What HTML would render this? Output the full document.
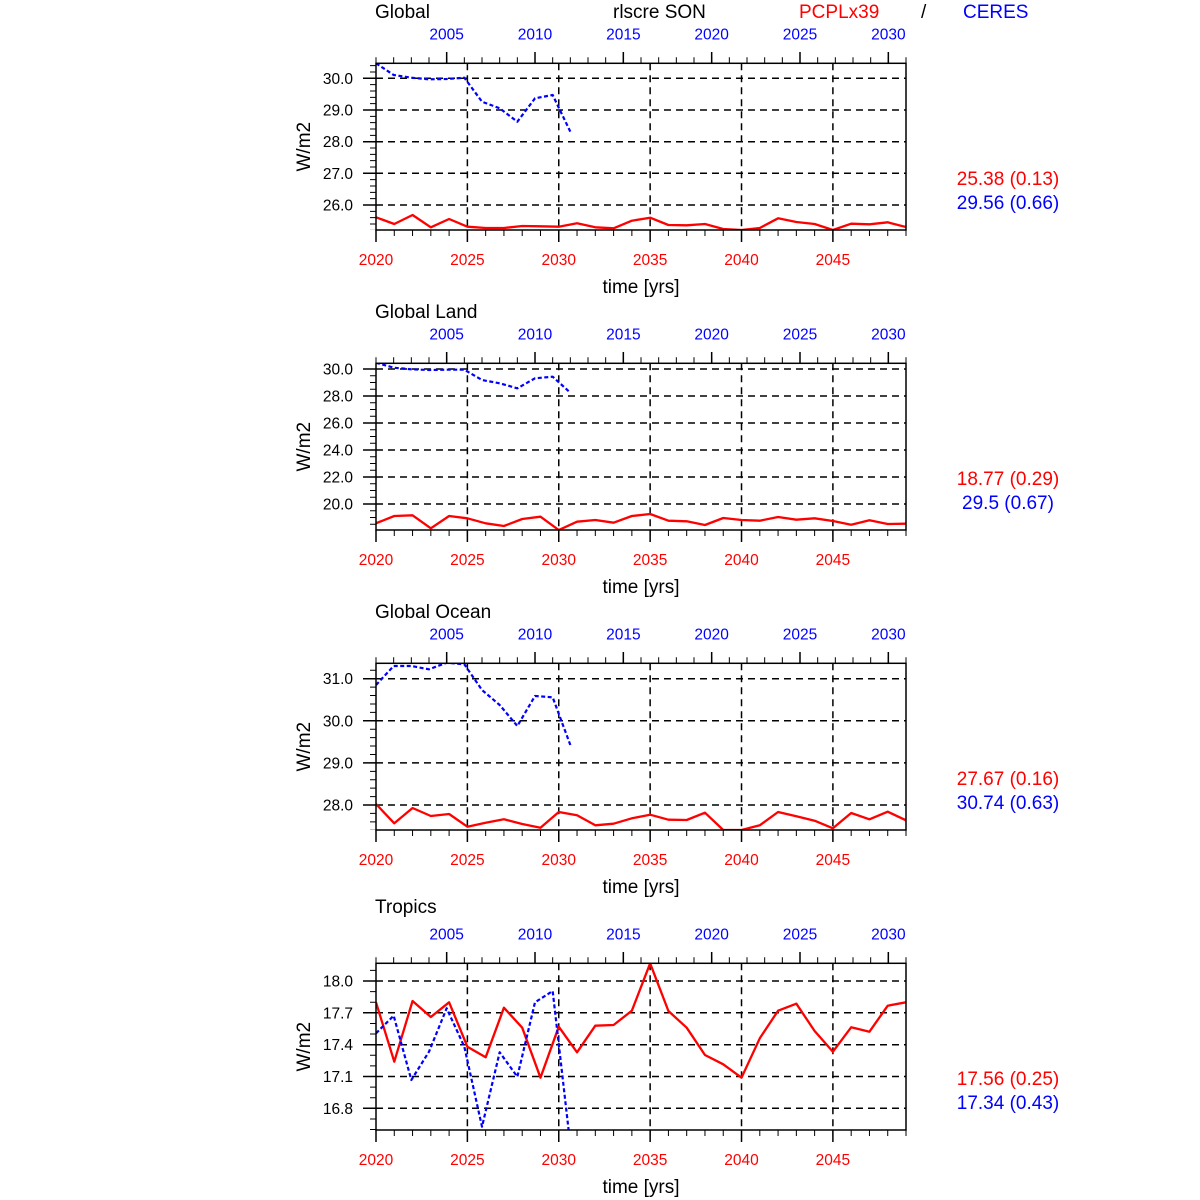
<!DOCTYPE html>
<html>
<head>
<meta charset="utf-8">
<style>
html,body{margin:0;padding:0;background:#fff;}
svg{display:block;font-family:"Liberation Sans",Arial,sans-serif;}
</style>
</head>
<body>
<svg width="1200" height="1200" viewBox="0 0 1200 1200" xmlns="http://www.w3.org/2000/svg">
<defs>
<clipPath id="pc"><rect x="376" y="63.3" width="530" height="166.7"/></clipPath>
</defs>
<rect width="1200" height="1200" fill="#fff"/>

<!-- header -->
<text x="613" y="18" font-size="19" fill="#000">rlscre SON</text>
<text x="799" y="18" font-size="19" fill="#ff0000">PCPLx39</text>
<text x="921" y="18" font-size="19" fill="#000">/</text>
<text x="963" y="18" font-size="19" fill="#0000ff">CERES</text>

<!-- ================= PANEL 1 ================= -->
<g transform="translate(0,0)">
<text x="375" y="18" font-size="19" fill="#000">Global</text>
<g stroke="#000" stroke-width="1.5" fill="none" stroke-dasharray="7 5">
<path d="M467.38 63.3V230 M558.76 63.3V230 M650.14 63.3V230 M741.52 63.3V230 M832.9 63.3V230"/>
<path d="M376 78.3H906 M376 110H906 M376 141.7H906 M376 173.3H906 M376 205H906"/>
</g>
<g stroke="#000" fill="none">
<path stroke-width="1.5" d="M446.67 52V63.3 M535 52V63.3 M623.33 52V63.3 M711.67 52V63.3 M800 52V63.3 M888.33 52V63.3"/>
<line x1="375.5" y1="60.3" x2="906.5" y2="60.3" stroke-width="6" stroke-dasharray="1 16.667"/>
<path stroke-width="1.5" d="M376 230V242 M467.38 230V242 M558.76 230V242 M650.14 230V242 M741.52 230V242 M832.9 230V242"/>
<line x1="375.5" y1="233" x2="906.5" y2="233" stroke-width="6" stroke-dasharray="1 17.276"/>
<path stroke-width="1.5" d="M363 78.3H376 M363 110H376 M363 141.7H376 M363 173.3H376 M363 205H376"/>
<line x1="373" y1="65.17" x2="373" y2="230" stroke-width="6" stroke-dasharray="1 5.333"/>
</g>
<g clip-path="url(#pc)" fill="none" stroke-linejoin="round">
<polyline stroke="#ff0000" stroke-width="2.3" points="376,217.3 394.28,224 412.55,215 430.83,227.3 449.1,219 467.38,226.7 485.66,228 503.93,228 522.21,226 540.48,226.3 558.76,226.7 577.03,223.3 595.31,227.3 613.59,228.3 631.86,220.7 650.14,217.7 668.41,225 686.69,225.3 704.97,224 723.24,229 741.52,230 759.79,228 778.07,218.3 796.34,222 814.62,224 832.9,230 851.17,223.7 869.45,224.3 887.72,222.3 906,227"/>
<polyline stroke="#0000ff" stroke-width="2.2" stroke-dasharray="4 2.5" points="376,63.3 393.67,75 411.33,77.7 429,79.3 446.67,79 464.33,77.7 482,101.7 499.67,108.3 517.33,121.7 535,98.3 552.67,95 570.33,131.7"/>
</g>
<rect x="376" y="63.3" width="530" height="166.7" fill="none" stroke="#000" stroke-width="1.5"/>
<g font-size="15.5" fill="#0000ff" text-anchor="middle">
<text x="446.67" y="39.5">2005</text><text x="535" y="39.5">2010</text><text x="623.33" y="39.5">2015</text><text x="711.67" y="39.5">2020</text><text x="800" y="39.5">2025</text><text x="888.33" y="39.5">2030</text>
</g>
<g font-size="15.5" fill="#ff0000" text-anchor="middle">
<text x="376" y="265">2020</text><text x="467.38" y="265">2025</text><text x="558.76" y="265">2030</text><text x="650.14" y="265">2035</text><text x="741.52" y="265">2040</text><text x="832.9" y="265">2045</text>
</g>
<text x="641" y="293" font-size="19" text-anchor="middle" fill="#000">time [yrs]</text>
<g font-size="15.5" fill="#000" text-anchor="end">
<text x="353" y="83.8">30.0</text><text x="353" y="115.5">29.0</text><text x="353" y="147.2">28.0</text><text x="353" y="178.8">27.0</text><text x="353" y="210.5">26.0</text>
</g>
<text transform="translate(310,146.7) rotate(-90)" font-size="19" text-anchor="middle" fill="#000">W/m2</text>
<text x="1008" y="185" font-size="19" text-anchor="middle" fill="#ff0000">25.38 (0.13)</text>
<text x="1008" y="209" font-size="19" text-anchor="middle" fill="#0000ff">29.56 (0.66)</text>
</g>

<!-- ================= PANEL 2 ================= -->
<g transform="translate(0,300)">
<text x="375" y="18" font-size="19" fill="#000">Global Land</text>
<g stroke="#000" stroke-width="1.5" fill="none" stroke-dasharray="7 5">
<path d="M467.38 63.3V230 M558.76 63.3V230 M650.14 63.3V230 M741.52 63.3V230 M832.9 63.3V230"/>
<path d="M376 69H906 M376 96H906 M376 123H906 M376 150H906 M376 177H906 M376 204H906"/>
</g>
<g stroke="#000" fill="none">
<path stroke-width="1.5" d="M446.67 52V63.3 M535 52V63.3 M623.33 52V63.3 M711.67 52V63.3 M800 52V63.3 M888.33 52V63.3"/>
<line x1="375.5" y1="60.3" x2="906.5" y2="60.3" stroke-width="6" stroke-dasharray="1 16.667"/>
<path stroke-width="1.5" d="M376 230V242 M467.38 230V242 M558.76 230V242 M650.14 230V242 M741.52 230V242 M832.9 230V242"/>
<line x1="375.5" y1="233" x2="906.5" y2="233" stroke-width="6" stroke-dasharray="1 17.276"/>
<path stroke-width="1.5" d="M363 69H376 M363 96H376 M363 123H376 M363 150H376 M363 177H376 M363 204H376"/>
<line x1="373" y1="68.5" x2="373" y2="230" stroke-width="6" stroke-dasharray="1 5.75"/>
</g>
<g clip-path="url(#pc)" fill="none" stroke-linejoin="round">
<polyline stroke="#ff0000" stroke-width="2.3" points="376,223.3 394.28,216 412.55,215.3 430.83,228.3 449.1,216 467.38,218.3 485.66,223.3 503.93,226 522.21,219 540.48,216.7 558.76,230 577.03,221.7 595.31,220 613.59,222.7 631.86,216 650.14,214 668.41,220.7 686.69,221.3 704.97,225 723.24,218 741.52,220 759.79,220.7 778.07,217 796.34,219.7 814.62,218.3 832.9,221 851.17,224.7 869.45,220.3 887.72,224 906,223.7"/>
<polyline stroke="#0000ff" stroke-width="2.2" stroke-dasharray="4 2.5" points="376,62.7 393.67,67.7 411.33,69.3 429,70 446.67,69.7 464.33,69.7 482,80 499.67,83.3 517.33,88.3 535,78.3 552.67,76.7 570.33,92.7"/>
</g>
<rect x="376" y="63.3" width="530" height="166.7" fill="none" stroke="#000" stroke-width="1.5"/>
<g font-size="15.5" fill="#0000ff" text-anchor="middle">
<text x="446.67" y="39.5">2005</text><text x="535" y="39.5">2010</text><text x="623.33" y="39.5">2015</text><text x="711.67" y="39.5">2020</text><text x="800" y="39.5">2025</text><text x="888.33" y="39.5">2030</text>
</g>
<g font-size="15.5" fill="#ff0000" text-anchor="middle">
<text x="376" y="265">2020</text><text x="467.38" y="265">2025</text><text x="558.76" y="265">2030</text><text x="650.14" y="265">2035</text><text x="741.52" y="265">2040</text><text x="832.9" y="265">2045</text>
</g>
<text x="641" y="293" font-size="19" text-anchor="middle" fill="#000">time [yrs]</text>
<g font-size="15.5" fill="#000" text-anchor="end">
<text x="353" y="74.5">30.0</text><text x="353" y="101.5">28.0</text><text x="353" y="128.5">26.0</text><text x="353" y="155.5">24.0</text><text x="353" y="182.5">22.0</text><text x="353" y="209.5">20.0</text>
</g>
<text transform="translate(310,146.7) rotate(-90)" font-size="19" text-anchor="middle" fill="#000">W/m2</text>
<text x="1008" y="185" font-size="19" text-anchor="middle" fill="#ff0000">18.77 (0.29)</text>
<text x="1008" y="209" font-size="19" text-anchor="middle" fill="#0000ff">29.5 (0.67)</text>
</g>

<!-- ================= PANEL 3 ================= -->
<g transform="translate(0,600)">
<text x="375" y="18" font-size="19" fill="#000">Global Ocean</text>
<g stroke="#000" stroke-width="1.5" fill="none" stroke-dasharray="7 5">
<path d="M467.38 63.3V230 M558.76 63.3V230 M650.14 63.3V230 M741.52 63.3V230 M832.9 63.3V230"/>
<path d="M376 78.7H906 M376 120.8H906 M376 162.9H906 M376 205H906"/>
</g>
<g stroke="#000" fill="none">
<path stroke-width="1.5" d="M446.67 52V63.3 M535 52V63.3 M623.33 52V63.3 M711.67 52V63.3 M800 52V63.3 M888.33 52V63.3"/>
<line x1="375.5" y1="60.3" x2="906.5" y2="60.3" stroke-width="6" stroke-dasharray="1 16.667"/>
<path stroke-width="1.5" d="M376 230V242 M467.38 230V242 M558.76 230V242 M650.14 230V242 M741.52 230V242 M832.9 230V242"/>
<line x1="375.5" y1="233" x2="906.5" y2="233" stroke-width="6" stroke-dasharray="1 17.276"/>
<path stroke-width="1.5" d="M363 78.7H376 M363 120.8H376 M363 162.9H376 M363 205H376"/>
<line x1="373" y1="69.78" x2="373" y2="230" stroke-width="6" stroke-dasharray="1 7.42"/>
</g>
<g clip-path="url(#pc)" fill="none" stroke-linejoin="round">
<polyline stroke="#ff0000" stroke-width="2.3" points="376,204 394.28,223.3 412.55,208 430.83,216 449.1,214 467.38,226.7 485.66,222.7 503.93,219.3 522.21,224 540.48,227.7 558.76,212 577.03,215.3 595.31,225.3 613.59,223.7 631.86,218.3 650.14,214.7 668.41,219.7 686.69,220 704.97,212.7 723.24,230 741.52,230 759.79,225.3 778.07,212 796.34,216.3 814.62,220.7 832.9,228.3 851.17,213 869.45,219.3 887.72,211.7 906,220.3"/>
<polyline stroke="#0000ff" stroke-width="2.2" stroke-dasharray="4 2.5" points="376,85 393.67,66 411.33,66 429,69.3 446.67,62.7 464.33,64.3 482,90 499.67,105 517.33,126 535,96 552.67,97.3 570.33,145"/>
</g>
<rect x="376" y="63.3" width="530" height="166.7" fill="none" stroke="#000" stroke-width="1.5"/>
<g font-size="15.5" fill="#0000ff" text-anchor="middle">
<text x="446.67" y="39.5">2005</text><text x="535" y="39.5">2010</text><text x="623.33" y="39.5">2015</text><text x="711.67" y="39.5">2020</text><text x="800" y="39.5">2025</text><text x="888.33" y="39.5">2030</text>
</g>
<g font-size="15.5" fill="#ff0000" text-anchor="middle">
<text x="376" y="265">2020</text><text x="467.38" y="265">2025</text><text x="558.76" y="265">2030</text><text x="650.14" y="265">2035</text><text x="741.52" y="265">2040</text><text x="832.9" y="265">2045</text>
</g>
<text x="641" y="293" font-size="19" text-anchor="middle" fill="#000">time [yrs]</text>
<g font-size="15.5" fill="#000" text-anchor="end">
<text x="353" y="84.2">31.0</text><text x="353" y="126.3">30.0</text><text x="353" y="168.4">29.0</text><text x="353" y="210.5">28.0</text>
</g>
<text transform="translate(310,146.7) rotate(-90)" font-size="19" text-anchor="middle" fill="#000">W/m2</text>
<text x="1008" y="185" font-size="19" text-anchor="middle" fill="#ff0000">27.67 (0.16)</text>
<text x="1008" y="209" font-size="19" text-anchor="middle" fill="#0000ff">30.74 (0.63)</text>
</g>

<!-- ================= PANEL 4 ================= -->
<g transform="translate(0,900)">
<text x="375" y="13" font-size="19" fill="#000">Tropics</text>
<g stroke="#000" stroke-width="1.5" fill="none" stroke-dasharray="7 5">
<path d="M467.38 63.3V230 M558.76 63.3V230 M650.14 63.3V230 M741.52 63.3V230 M832.9 63.3V230"/>
<path d="M376 81H906 M376 112.8H906 M376 144.7H906 M376 176.5H906 M376 208.3H906"/>
</g>
<g stroke="#000" fill="none">
<path stroke-width="1.5" d="M446.67 52V63.3 M535 52V63.3 M623.33 52V63.3 M711.67 52V63.3 M800 52V63.3 M888.33 52V63.3"/>
<line x1="375.5" y1="60.3" x2="906.5" y2="60.3" stroke-width="6" stroke-dasharray="1 16.667"/>
<path stroke-width="1.5" d="M376 230V242 M467.38 230V242 M558.76 230V242 M650.14 230V242 M741.52 230V242 M832.9 230V242"/>
<line x1="375.5" y1="233" x2="906.5" y2="233" stroke-width="6" stroke-dasharray="1 17.276"/>
<path stroke-width="1.5" d="M363 81H376 M363 112.8H376 M363 144.7H376 M363 176.5H376 M363 208.3H376"/>
<line x1="373" y1="69.9" x2="373" y2="230" stroke-width="6" stroke-dasharray="1 9.61"/>
</g>
<g clip-path="url(#pc)" fill="none" stroke-linejoin="round">
<polyline stroke="#ff0000" stroke-width="2.3" points="376,102.3 394.28,161.7 412.55,101 430.83,117 449.1,102.3 467.38,146.7 485.66,157.3 503.93,107.7 522.21,127.7 540.48,177.7 558.76,126.7 577.03,152.3 595.31,125.7 613.59,125 631.86,110.7 650.14,63.3 668.41,111 686.69,127.7 704.97,155 723.24,164.3 741.52,177.7 759.79,138.3 778.07,110.7 796.34,103.7 814.62,131 832.9,151.7 851.17,127.3 869.45,131.7 887.72,105.7 906,102.3"/>
<polyline stroke="#0000ff" stroke-width="2.2" stroke-dasharray="4 2.5" points="376,133.3 393.67,115.7 411.33,180 429,151.7 446.67,108.3 464.33,146.7 482,226.7 499.67,152.3 517.33,176.7 535,102.3 552.67,91 570.33,245"/>
</g>
<rect x="376" y="63.3" width="530" height="166.7" fill="none" stroke="#000" stroke-width="1.5"/>
<g font-size="15.5" fill="#0000ff" text-anchor="middle">
<text x="446.67" y="39.5">2005</text><text x="535" y="39.5">2010</text><text x="623.33" y="39.5">2015</text><text x="711.67" y="39.5">2020</text><text x="800" y="39.5">2025</text><text x="888.33" y="39.5">2030</text>
</g>
<g font-size="15.5" fill="#ff0000" text-anchor="middle">
<text x="376" y="265">2020</text><text x="467.38" y="265">2025</text><text x="558.76" y="265">2030</text><text x="650.14" y="265">2035</text><text x="741.52" y="265">2040</text><text x="832.9" y="265">2045</text>
</g>
<text x="641" y="293" font-size="19" text-anchor="middle" fill="#000">time [yrs]</text>
<g font-size="15.5" fill="#000" text-anchor="end">
<text x="353" y="86.5">18.0</text><text x="353" y="118.3">17.7</text><text x="353" y="150.2">17.4</text><text x="353" y="182">17.1</text><text x="353" y="213.8">16.8</text>
</g>
<text transform="translate(310,146.7) rotate(-90)" font-size="19" text-anchor="middle" fill="#000">W/m2</text>
<text x="1008" y="185" font-size="19" text-anchor="middle" fill="#ff0000">17.56 (0.25)</text>
<text x="1008" y="209" font-size="19" text-anchor="middle" fill="#0000ff">17.34 (0.43)</text>
</g>
</svg>
</body>
</html>
